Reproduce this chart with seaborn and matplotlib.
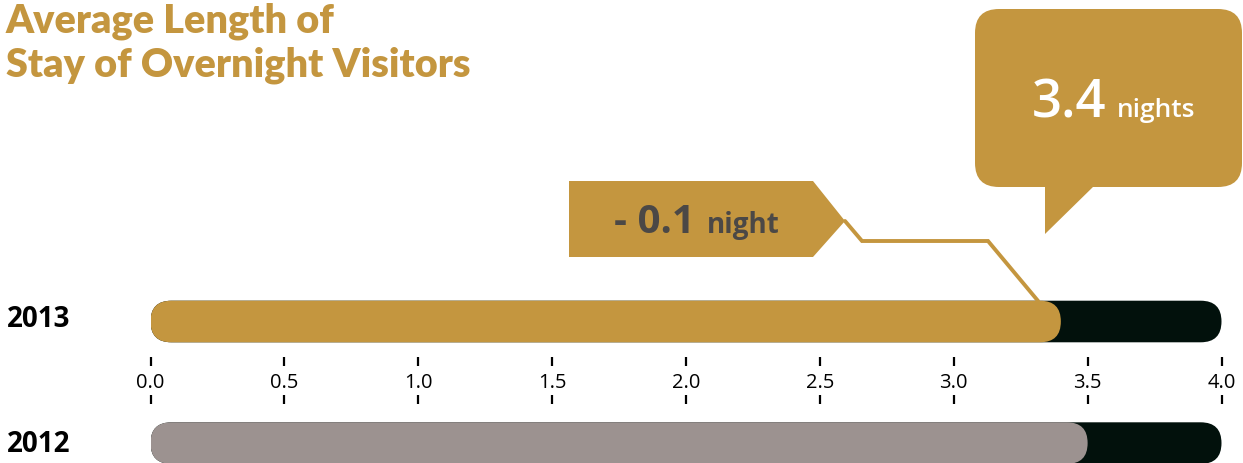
import matplotlib
matplotlib.use("Agg")
import matplotlib.pyplot as plt
import pandas as pd
import seaborn as sns
from matplotlib.patches import FancyBboxPatch, Polygon
from matplotlib.transforms import blended_transform_factory

# data
years = ["2013", "2012"]
nights = [3.4, 3.5]
scale_max = 4.0
ticks = [0.0, 0.5, 1.0, 1.5, 2.0, 2.5, 3.0, 3.5, 4.0]
tick_labels = [f"{t:.1f}" for t in ticks]
callout_value = "3.4"
callout_unit = "nights"
change_value = "- 0.1"
change_unit = "night"
title_lines = ["Average Length of", "Stay of Overnight Visitors"]

GOLD = "#C4963F"
GREY = "#9C9290"
DARK = "#02110C"
TEXT = "#4B4846"

df = pd.DataFrame({"year": years, "nights": nights, "track": [scale_max] * len(years)})

sns.set_theme(style="white")
plt.rcParams["font.family"] = ["Lato", "DejaVu Sans"]

W, H = 1243, 464
fig = plt.figure(figsize=(W / 100, H / 100), dpi=100)

# pixel layout of the bar axes
x0_px, x4_px = 150.5, 1221.5
px_per_x = (x4_px - x0_px) / scale_max
row0_px, row_gap = 322.5, 121.6
bar_px = 41.6

ax = fig.add_axes([x0_px / W, 0, (x4_px - x0_px) / W, 1])
sns.barplot(data=df, x="track", y="year", orient="h", color=DARK,
            width=bar_px / row_gap, saturation=1, ax=ax)
sns.barplot(data=df, x="nights", y="year", orient="h", hue="year",
            palette=[GOLD, GREY], width=bar_px / row_gap, saturation=1,
            legend=False, ax=ax)
ax.set_xlim(0, scale_max)
ax.set_ylim((H - row0_px) / row_gap, -row0_px / row_gap)
ax.axis("off")

# rounded bar ends
r = (bar_px / 2) / px_per_x
asp = ((bar_px / 2) / row_gap) / r
for i, p in enumerate(list(ax.patches)):
    x, y, w, h = p.get_x(), p.get_y(), p.get_width(), p.get_height()
    fc = p.get_facecolor()
    p.remove()
    ax.add_patch(FancyBboxPatch((x, y), w, h,
                                boxstyle=f"round,pad=0,rounding_size={r}",
                                mutation_aspect=asp, fc=fc, ec="none",
                                zorder=2 + i // 2))

# overlay in pixel coords for text and callouts
ov = fig.add_axes([0, 0, 1, 1], zorder=5)
ov.set_xlim(0, W)
ov.set_ylim(H, 0)
ov.axis("off")
ov.patch.set_alpha(0)

# axis ticks between the bars
tr = blended_transform_factory(ax.transData, ov.transData)
for t, lab in zip(ticks, tick_labels):
    ov.plot([t, t], [358, 367], color="black", lw=1.6, transform=tr, solid_capstyle="butt")
    ov.plot([t, t], [396, 405], color="black", lw=1.6, transform=tr, solid_capstyle="butt")
    ov.text(t, 383, lab, transform=tr, ha="center", va="center",
            fontsize=14.5, color="black", family=["Open Sans", "DejaVu Sans"])

# year labels
for i, yr in enumerate(years):
    ov.text(7, row0_px - 3 + i * (row_gap + 3), yr, ha="left", va="center",
            fontsize=20, fontweight="bold", color="black",
            family=["Open Sans", "DejaVu Sans"])

# title
for i, line in enumerate(title_lines):
    ov.text(6, 33 + i * 43, line, ha="left", va="baseline", fontsize=28.5,
            fontweight="heavy", color=GOLD)

# speech bubble
ov.add_patch(FancyBboxPatch((975, 10), 267, 178,
                            boxstyle="round,pad=0,rounding_size=24",
                            fc=GOLD, ec="none"))
ov.add_patch(Polygon([(1045, 186), (1095, 186), (1045, 235)], closed=True,
                     fc=GOLD, ec="none"))
ov.text(1106, 117, callout_value, ha="right", va="baseline", fontsize=38,
        fontweight="semibold", color="white", family=["Open Sans", "DejaVu Sans"])
ov.text(1117, 117, callout_unit, ha="left", va="baseline", fontsize=19,
        fontweight="semibold", color="white", family=["Open Sans", "DejaVu Sans"])

# change label with connector to the 2013 bar
ov.add_patch(Polygon([(569, 182), (813, 182), (845, 222), (813, 258), (569, 258)],
                     closed=True, fc=GOLD, ec="none"))
end_x = x0_px + (nights[0] - 0.085) * px_per_x
ov.plot([845, 862, 988, end_x], [222, 242, 242, 302], color=GOLD, lw=2.8,
        solid_joinstyle="miter")
ov.text(695, 233, change_value, ha="right", va="baseline", fontsize=29,
        fontweight="bold", color=TEXT, family=["Open Sans", "DejaVu Sans"])
ov.text(707, 233, change_unit, ha="left", va="baseline", fontsize=20,
        fontweight="bold", color=TEXT, family=["Open Sans", "DejaVu Sans"])

fig.savefig("out.png", dpi=100)
